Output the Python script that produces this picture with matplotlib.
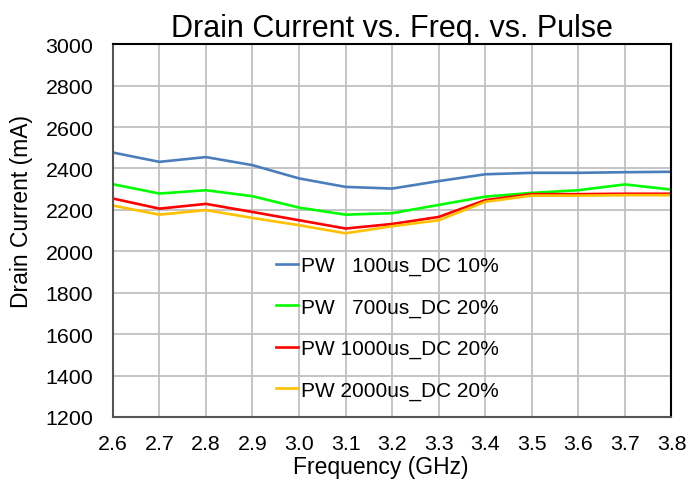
import matplotlib
matplotlib.use("Agg")
import matplotlib.pyplot as plt

plt.rcParams["font.family"] = ["Liberation Sans", "DejaVu Sans"]

freq = [2.6, 2.7, 2.8, 2.9, 3.0, 3.1, 3.2, 3.3, 3.4, 3.5, 3.6, 3.7, 3.8]
pw100 = [2477, 2432, 2455, 2416, 2352, 2311, 2303, 2339, 2372, 2379, 2379, 2382, 2384]
pw700 = [2324, 2279, 2295, 2266, 2211, 2177, 2184, 2224, 2264, 2282, 2295, 2323, 2298]
pw1000 = [2255, 2206, 2229, 2190, 2150, 2110, 2132, 2166, 2247, 2276, 2276, 2278, 2278]
pw2000 = [2221, 2177, 2199, 2161, 2126, 2087, 2121, 2150, 2239, 2269, 2269, 2271, 2271]

series = [
    ("PW   100us_DC 10%", pw100, "#4a7ebb"),
    ("PW   700us_DC 20%", pw700, "#00ff00"),
    ("PW 1000us_DC 20%", pw1000, "#ff0000"),
    ("PW 2000us_DC 20%", pw2000, "#ffc000"),
]

fig = plt.figure(figsize=(6.88, 4.81), dpi=100)
ax = fig.add_axes([0.164, 0.131, 0.812, 0.775])

for label, vals, color in series:
    ax.plot(freq, vals, color=color, lw=1.9, label=label, solid_joinstyle="round")

ax.set_xlim(2.6, 3.8)
ax.set_ylim(1200, 3000)
ax.set_xticks(freq)
ax.set_xticklabels([f"{f:.1f}" for f in freq])
ax.set_yticks(range(1200, 3001, 200))
ax.grid(True, color="#c0c0c0", lw=1.3)
ax.set_axisbelow(True)
ax.tick_params(length=0, labelsize=15.4)
ax.tick_params(axis="y", pad=14)
ax.tick_params(axis="x", pad=12)

for side in ("left", "bottom"):
    ax.spines[side].set_color("#555555")
    ax.spines[side].set_linewidth(1.5)
for side in ("top", "right"):
    ax.spines[side].set_color("black")
    ax.spines[side].set_linewidth(1.5)

ax.set_title("Drain Current vs. Freq. vs. Pulse", fontsize=22, pad=6)
ax.set_xlabel("Frequency (GHz)", fontsize=16.5)
ax.set_ylabel("Drain Current (mA)", fontsize=16.5)
# axis titles sit slightly off-centre
ax.xaxis.set_label_coords(0.479, -0.102)
ax.yaxis.set_label_coords(-0.143, 0.555)

ax.legend(loc="upper left", bbox_to_anchor=(0.278, 0.454), frameon=False,
          fontsize=15, handlelength=1.05, handletextpad=0.15, labelspacing=1.07,
          borderaxespad=0)

fig.savefig("out.png", dpi=100)
